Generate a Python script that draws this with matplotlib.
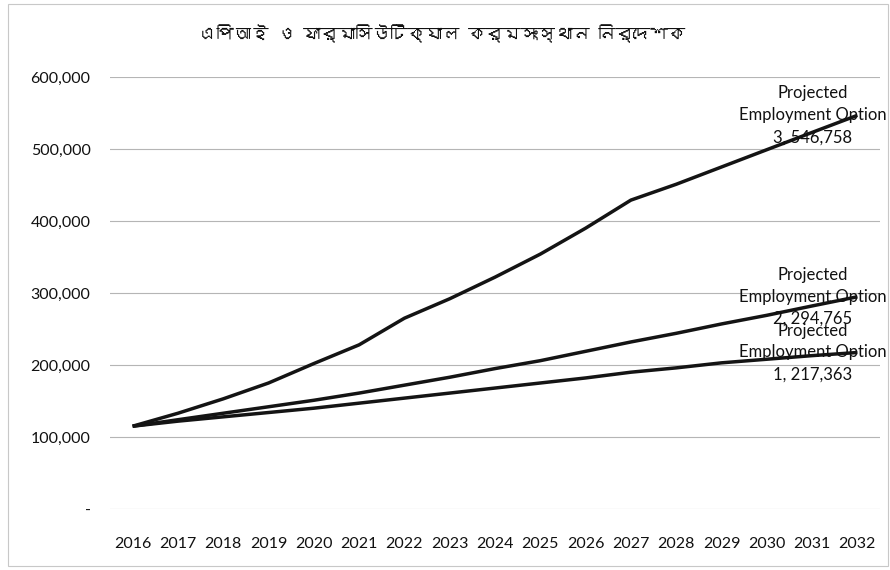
import matplotlib
matplotlib.use("Agg")
import matplotlib.pyplot as plt
from matplotlib import font_manager
from matplotlib.ft2font import FT2Font
from matplotlib.ticker import FuncFormatter

years = [str(y) for y in range(2016, 2033)]
option1 = [115000, 122000, 128000, 134000, 140000, 147000, 154000, 161000, 168000,
           175000, 182000, 190000, 196000, 203000, 208000, 213000, 217363]
option2 = [115000, 124000, 133000, 142000, 151000, 161000, 172000, 183000, 195000,
           206000, 219000, 232000, 244000, 257000, 269000, 282000, 294765]
option3 = [115000, 133000, 153000, 175000, 202000, 228000, 265000, 292000, 322000,
           354000, 390000, 429000, 451000, 475000, 499000, 523000, 546758]
series_names = ["Projected\nEmployment Option\n1", "Projected\nEmployment Option\n2",
                "Projected\nEmployment Option\n3"]
title = "এপিআই ও ফার্মাসিউটিক্যাল কর্মসংস্থান নির্দেশক"
yticks = [0, 100000, 200000, 300000, 400000, 500000, 600000]

# find a font with Bengali glyphs if one exists
beng_font = None
for f in font_manager.fontManager.ttflist:
    try:
        cmap = FT2Font(f.fname).get_charmap()
        if ord("এ") in cmap and ord("ক") in cmap:
            beng_font = f.name
            break
    except Exception:
        pass

base = "Lato"
plt.rcParams["font.family"] = [base, "DejaVu Sans"]

fig = plt.figure(figsize=(8.9, 5.7), dpi=100)
ax = fig.add_axes([110 / 890, 1 - 509 / 570, (880 - 110) / 890, (509 - 77) / 570])

x = list(range(len(years)))
for vals in (option1, option2, option3):
    ax.plot(x, vals, color="#141414", lw=2.5, solid_capstyle="butt", zorder=3)

ax.set_xlim(-0.5, len(years) - 0.5)
ax.set_ylim(0, 600000)
ax.set_yticks(yticks)
ax.yaxis.set_major_formatter(FuncFormatter(lambda v, p: "-" if v == 0 else f"{int(v):,}"))
ax.set_xticks(x)
ax.set_xticklabels(years)
ax.tick_params(axis="both", length=0, labelsize=11.5, colors="#111111")
ax.tick_params(axis="x", pad=20)
ax.tick_params(axis="y", pad=14)
ax.grid(axis="y", color="#b5b5b5", lw=0.8, zorder=0)
for s in ax.spines.values():
    s.set_visible(False)

for name, vals in zip(series_names, (option1, option2, option3)):
    label = f"{name}, {vals[-1]:,}"
    ax.annotate(label, xy=(x[-1], vals[-1]), xytext=(-45, 0), textcoords="offset pixels",
                ha="center", va="center", fontsize=12, color="#111111",
                linespacing=1.45, zorder=4)

tfam = [beng_font, "DejaVu Sans"] if beng_font else ["DejaVu Sans"]
fig.text(442 / 890, 1 - 34 / 570, title, ha="center", va="center", fontsize=12.5,
         family=tfam, color="#111111")

border = plt.Rectangle((8 / 890, 4 / 570), 880 / 890, 562 / 570, transform=fig.transFigure,
                       fill=False, edgecolor="#c8c8c8", lw=0.8)
fig.patches.append(border)

fig.savefig("out.png", dpi=100)
